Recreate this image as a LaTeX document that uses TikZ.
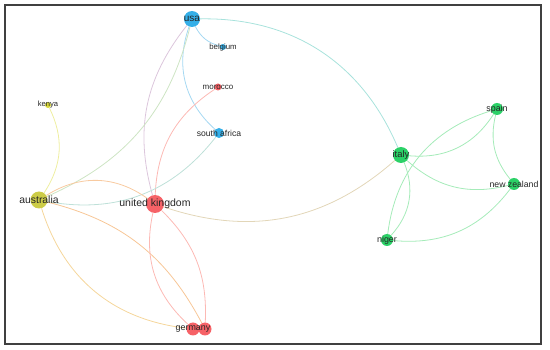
\documentclass[tikz,border=0pt]{standalone}
\usepackage{fontspec}
\setmainfont{Liberation Sans}
\usetikzlibrary{backgrounds}
\definecolor{nblue}{RGB}{35,168,230}
\definecolor{ngreen}{RGB}{25,205,90}
\definecolor{nred}{RGB}{245,85,90}
\definecolor{nolive}{RGB}{200,200,55}
\definecolor{nyellow}{RGB}{212,212,40}
\definecolor{eblue}{RGB}{165,216,242}
\definecolor{egreen}{RGB}{165,235,185}
\definecolor{ered}{RGB}{252,185,180}
\definecolor{eyellow}{RGB}{238,238,160}
\definecolor{eusaaus}{RGB}{205,228,195}
\definecolor{eusauk}{RGB}{220,198,220}
\definecolor{esaaus}{RGB}{190,224,216}
\definecolor{eukit}{RGB}{226,214,184}
\definecolor{eausuk}{RGB}{248,202,160}
\definecolor{eausde}{RGB}{247,198,150}
\definecolor{eausdelow}{RGB}{245,214,155}
\definecolor{eusait}{RGB}{168,226,220}
\begin{document}
\begin{tikzpicture}[x=1pt,y=1pt,
  country/.style={circle,inner sep=0pt,draw=none,fill opacity=0.92},
  lab/.style={text=black!85,inner sep=0pt,text opacity=1},
  edge/.style={line width=0.8pt}]
\useasboundingbox (0,0) rectangle (550,-350);
\draw[line width=1.6pt,black!75] (5,-5) rectangle (541,-344);
% nodes
\node[country,fill=nblue,minimum size=16pt,label={[lab,font=\fontsize{10}{12}\selectfont]center:usa}] (usa) at (192,-19) {};
\node[country,fill=nblue,minimum size=6pt,label={[lab,font=\fontsize{7.8}{9}\selectfont]center:belgium}] (belgium) at (223,-47) {};
\node[country,fill=nred,minimum size=7pt,label={[lab,font=\fontsize{8}{9}\selectfont]center:morocco}] (morocco) at (218,-87) {};
\node[country,fill=nyellow,minimum size=6pt,label={[lab,font=\fontsize{7.6}{9}\selectfont]center:kenya}] (kenya) at (48,-105) {};
\node[country,fill=nblue,minimum size=10pt,label={[lab,font=\fontsize{8.6}{10}\selectfont]center:south africa}] (safrica) at (219,-133) {};
\node[country,fill=nolive,minimum size=17pt,label={[lab,font=\fontsize{10.4}{12}\selectfont]center:australia}] (australia) at (39,-200) {};
\node[country,fill=nred,minimum size=18pt,label={[lab,font=\fontsize{10.5}{12}\selectfont]center:united kingdom}] (uk) at (155,-204) {};
\node[country,fill=nred,minimum size=13pt] (germany2) at (205,-329) {};
\node[country,fill=nred,minimum size=13pt,label={[lab,font=\fontsize{8.9}{10}\selectfont]center:germany}] (germany1) at (193,-329) {};
\node[country,fill=ngreen,minimum size=16pt,label={[lab,font=\fontsize{9.4}{11}\selectfont]center:italy}] (italy) at (401,-155) {};
\node[country,fill=ngreen,minimum size=12pt,label={[lab,font=\fontsize{8.9}{10}\selectfont]center:spain}] (spain) at (497,-109) {};
\node[country,fill=ngreen,minimum size=12pt,label={[lab,font=\fontsize{8.7}{10}\selectfont]center:new zealand}] (nz) at (514,-184) {};
\node[country,fill=ngreen,minimum size=12pt,label={[lab,font=\fontsize{8.9}{10}\selectfont]center:niger}] (niger) at (387,-240) {};
% edges
\begin{pgfonlayer}{background}
\draw[edge,eblue] (usa) to[bend right=24] (belgium);
\draw[edge,eblue] (usa) to[bend right=34] (safrica);
\draw[edge,eusait] (usa) to[bend left=34] (italy);
\draw[edge,eusauk] (usa) to[bend right=27] (uk);
\draw[edge,eusaaus] (usa) to[bend left=26] (australia);
\draw[edge,ered] (morocco) to[bend right=27] (uk);
\draw[edge,esaaus] (safrica) to[bend left=31] (australia);
\draw[edge,eyellow] (kenya) to[bend left=30] (australia);
\draw[edge,eausuk] (australia) to[bend left=34] (uk);
\draw[edge,eausde] (australia) to[bend left=24] (germany2);
\draw[edge,eausdelow] (australia) to[bend right=33] (germany1);
\draw[edge,ered] (uk) to[bend left=24] (germany2);
\draw[edge,ered] (uk) to[bend right=30] (germany1);
\draw[edge,eukit] (uk) to[bend right=30] (italy);
\draw[edge,egreen] (italy) to[bend right=31] (spain);
\draw[edge,egreen] (spain) to[bend right=33] (niger);
\draw[edge,egreen] (italy) to[bend left=32] (niger);
\draw[edge,egreen] (spain) to[bend right=26] (nz);
\draw[edge,egreen] (italy) to[bend right=28] (nz);
\draw[edge,egreen] (niger) to[bend right=29] (nz);
\end{pgfonlayer}
\end{tikzpicture}
\end{document}
